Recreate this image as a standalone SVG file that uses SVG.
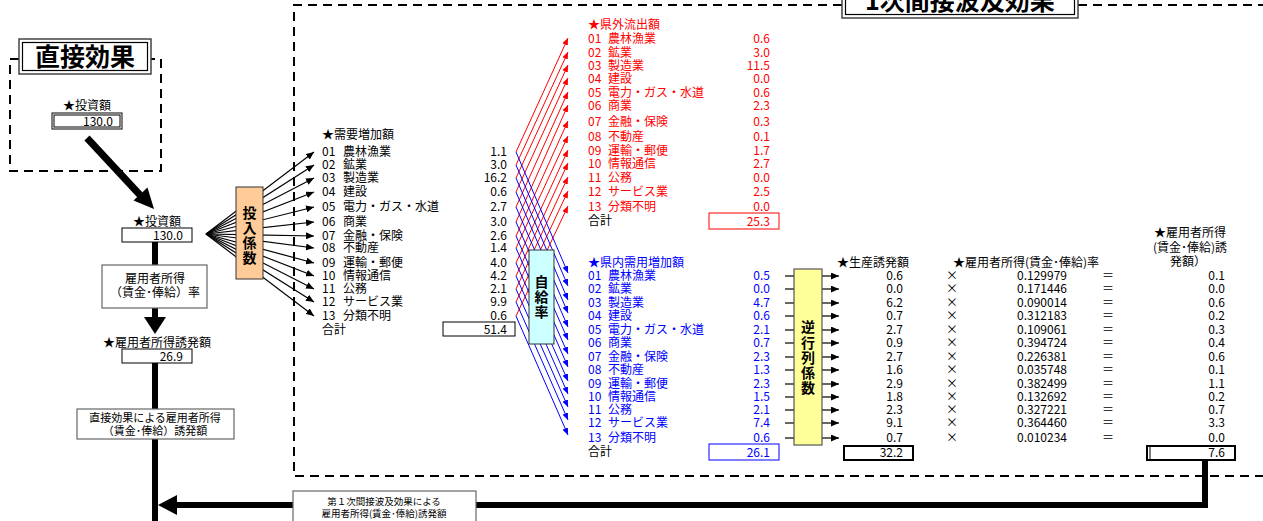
<svg xmlns="http://www.w3.org/2000/svg" width="1263" height="521" viewBox="0 0 1263 521">
<style>
.t{font-family:"Noto Sans CJK JP","Noto Sans CJK SC",sans-serif;font-size:12px;fill:#000}
.s{font-size:11px}
.xs{font-size:9.5px}
.r{fill:#f00}
.b{fill:#00f}
.n{text-anchor:end}
.c{text-anchor:middle}
.bold{font-weight:bold}
.v{font-family:"Noto Sans CJK JP",sans-serif;font-size:14px;font-weight:bold;text-anchor:middle;fill:#000}
.dash{fill:none;stroke:#000;stroke-width:2;stroke-dasharray:9 6}
.fan{stroke:#000;stroke-width:1.2;fill:none}
.rl{stroke:#f00;stroke-width:1;fill:none}
.bl{stroke:#00f;stroke-width:1;fill:none}
.box{fill:#fff;stroke:#000;stroke-width:1}
.gbox{fill:#fff;stroke:#666;stroke-width:1.2}
.thick{stroke:#000;fill:none}
</style>
<defs>
<marker id="ak" markerUnits="userSpaceOnUse" markerWidth="8" markerHeight="7" refX="8" refY="3.5" orient="auto"><path d="M0,0 L8,3.5 L0,7 z" fill="#000"/></marker>
<marker id="ar" markerUnits="userSpaceOnUse" markerWidth="7" markerHeight="6" refX="7" refY="3" orient="auto"><path d="M0,0 L7,3 L0,6 z" fill="#f00"/></marker>
<marker id="ab" markerUnits="userSpaceOnUse" markerWidth="7" markerHeight="6" refX="7" refY="3" orient="auto"><path d="M0,0 L7,3 L0,6 z" fill="#00f"/></marker>
</defs>
<rect width="1263" height="521" fill="#fff"/>

<!-- frames -->
<g id="frame-indirect">
<path class="dash" d="M842,5 H294 V476 H1263"/>
<path class="dash" d="M1078,5 H1263"/>
<rect x="842" y="-20" width="236" height="38" fill="#fff" stroke="#444" stroke-width="1.5"/>
<rect x="845.5" y="-17" width="229" height="31.5" fill="none" stroke="#000" stroke-width="1.2"/>
<text class="t bold c" x="960" y="10" style="font-size:25px">1次間接波及効果</text>
</g>
<g id="frame-direct">
<path class="dash" d="M19,59 H10 V171 H161 V59 H151"/>
<rect x="19" y="39" width="132" height="35" fill="#fff" stroke="#444" stroke-width="1.5"/>
<rect x="22.5" y="42.5" width="125" height="28" fill="none" stroke="#000" stroke-width="1.2"/>
<text class="t bold c" x="85" y="66" style="font-size:25px">直接効果</text>
</g>

<!-- connectors -->
<g id="connectors">
<line x1="87" y1="138" x2="140" y2="195" stroke="#000" stroke-width="7"/>
<polygon points="154,209 133.5,200.5 147.5,187.5" fill="#000"/>
<line x1="155" y1="242" x2="155" y2="266" stroke="#000" stroke-width="6"/>
<line x1="155" y1="307" x2="155" y2="318" stroke="#000" stroke-width="6"/>
<polygon points="144,317 166,317 155,334" fill="#000"/>
<line x1="155" y1="363" x2="155" y2="521" stroke="#000" stroke-width="6"/>
<polyline points="1205,460 1205,505 176,505" fill="none" stroke="#000" stroke-width="6"/>
<polygon points="158,505 177,495 177,515" fill="#000"/>

<g marker-end="url(#ak)">
<line class="fan" x1="206" y1="234" x2="314" y2="152"/>
<line class="fan" x1="206" y1="234" x2="314" y2="165"/>
<line class="fan" x1="206" y1="234" x2="314" y2="178"/>
<line class="fan" x1="206" y1="234" x2="314" y2="192"/>
<line class="fan" x1="206" y1="234" x2="314" y2="207"/>
<line class="fan" x1="206" y1="234" x2="314" y2="222"/>
<line class="fan" x1="206" y1="234" x2="314" y2="236"/>
<line class="fan" x1="206" y1="234" x2="314" y2="248"/>
<line class="fan" x1="206" y1="234" x2="314" y2="263"/>
<line class="fan" x1="206" y1="234" x2="314" y2="276"/>
<line class="fan" x1="206" y1="234" x2="314" y2="289"/>
<line class="fan" x1="206" y1="234" x2="314" y2="302"/>
<line class="fan" x1="206" y1="234" x2="314" y2="316"/>
</g>
<g marker-end="url(#ar)">
<line class="rl" x1="516" y1="152" x2="568" y2="38"/>
<line class="rl" x1="516" y1="165" x2="568" y2="52"/>
<line class="rl" x1="516" y1="178" x2="568" y2="65"/>
<line class="rl" x1="516" y1="192" x2="568" y2="78"/>
<line class="rl" x1="516" y1="207" x2="568" y2="92"/>
<line class="rl" x1="516" y1="222" x2="568" y2="105"/>
<line class="rl" x1="516" y1="236" x2="568" y2="121"/>
<line class="rl" x1="516" y1="248" x2="568" y2="136"/>
<line class="rl" x1="516" y1="263" x2="568" y2="150"/>
<line class="rl" x1="516" y1="276" x2="568" y2="163"/>
<line class="rl" x1="516" y1="289" x2="568" y2="177"/>
<line class="rl" x1="516" y1="302" x2="568" y2="191"/>
<line class="rl" x1="516" y1="316" x2="568" y2="206"/>
</g>
<g marker-end="url(#ab)">
<line class="bl" x1="516" y1="152" x2="568" y2="273"/>
<line class="bl" x1="516" y1="165" x2="568" y2="286"/>
<line class="bl" x1="516" y1="178" x2="568" y2="300"/>
<line class="bl" x1="516" y1="192" x2="568" y2="313"/>
<line class="bl" x1="516" y1="207" x2="568" y2="327"/>
<line class="bl" x1="516" y1="222" x2="568" y2="340"/>
<line class="bl" x1="516" y1="236" x2="568" y2="354"/>
<line class="bl" x1="516" y1="248" x2="568" y2="367"/>
<line class="bl" x1="516" y1="263" x2="568" y2="381"/>
<line class="bl" x1="516" y1="276" x2="568" y2="394"/>
<line class="bl" x1="516" y1="289" x2="568" y2="407"/>
<line class="bl" x1="516" y1="302" x2="568" y2="420"/>
<line class="bl" x1="516" y1="316" x2="568" y2="435"/>
</g>
<g stroke="#000" stroke-width="1.2">
<line x1="785" y1="276" x2="794" y2="276"/><line x1="785" y1="289" x2="794" y2="289"/><line x1="785" y1="303" x2="794" y2="303"/><line x1="785" y1="316" x2="794" y2="316"/><line x1="785" y1="330" x2="794" y2="330"/><line x1="785" y1="343" x2="794" y2="343"/><line x1="785" y1="357" x2="794" y2="357"/><line x1="785" y1="370" x2="794" y2="370"/><line x1="785" y1="384" x2="794" y2="384"/><line x1="785" y1="397" x2="794" y2="397"/><line x1="785" y1="410" x2="794" y2="410"/><line x1="785" y1="423" x2="794" y2="423"/><line x1="785" y1="438" x2="794" y2="438"/>
</g>
<g stroke="#000" stroke-width="1.2" marker-end="url(#ak)">
<line x1="822" y1="276" x2="839" y2="276"/><line x1="822" y1="289" x2="839" y2="289"/><line x1="822" y1="303" x2="839" y2="303"/><line x1="822" y1="316" x2="839" y2="316"/><line x1="822" y1="330" x2="839" y2="330"/><line x1="822" y1="343" x2="839" y2="343"/><line x1="822" y1="357" x2="839" y2="357"/><line x1="822" y1="370" x2="839" y2="370"/><line x1="822" y1="384" x2="839" y2="384"/><line x1="822" y1="397" x2="839" y2="397"/><line x1="822" y1="410" x2="839" y2="410"/><line x1="822" y1="423" x2="839" y2="423"/><line x1="822" y1="438" x2="839" y2="438"/>
</g>
</g>

<!-- direct effect nodes -->
<g id="node-invest-direct">
<text class="t c" x="87" y="110">★投資額</text>
<rect x="52" y="113" width="70" height="16" fill="#fff" stroke="#000" stroke-width="1"/>
<rect x="54" y="115" width="66" height="12" fill="none" stroke="#000" stroke-width="1"/>
<text class="t n" x="113" y="125.5">130.0</text>
</g>
<g id="node-invest">
<text class="t c" x="157" y="226">★投資額</text>
<rect class="box" x="122" y="228" width="70" height="14"/>
<text class="t n" x="183" y="239.5">130.0</text>
</g>
<g id="node-rate-direct">
<rect class="gbox" x="102" y="265" width="105" height="43"/>
<text class="t c" x="155" y="283">雇用者所得</text>
<text class="t c" x="155" y="297">（賃金･俸給）率</text>
</g>
<g id="node-income-direct">
<text class="t c" x="157" y="347">★雇用者所得誘発額</text>
<rect class="box" x="122" y="349" width="70" height="14"/>
<text class="t n" x="183" y="360.5">26.9</text>
</g>
<g id="node-direct-label">
<rect class="gbox" x="77" y="409" width="157" height="30"/>
<text class="t s c" x="155" y="421.5">直接効果による雇用者所得</text>
<text class="t s c" x="155" y="434.5">（賃金･俸給）誘発額</text>
</g>
<g id="node-indirect-label">
<rect class="gbox" x="293" y="491" width="183" height="32"/>
<text class="t xs c" x="384" y="505">第１次間接波及効果による</text>
<text class="t xs c" x="384" y="517">雇用者所得(賃金･俸給)誘発額</text>
</g>

<!-- coefficient boxes -->
<g id="node-io-coef">
<rect x="236" y="187" width="27" height="92" fill="#ffcc99" stroke="#333" stroke-width="1"/>
<text class="v" x="249.5" y="218">投</text>
<text class="v" x="249.5" y="233">入</text>
<text class="v" x="249.5" y="248">係</text>
<text class="v" x="249.5" y="263">数</text>
</g>
<g id="node-self-sufficiency">
<rect x="529" y="250" width="25" height="94" fill="#ccffff" stroke="#333" stroke-width="1"/>
<text class="v" x="541.5" y="287">自</text>
<text class="v" x="541.5" y="302">給</text>
<text class="v" x="541.5" y="317">率</text>
</g>
<g id="node-inverse">
<rect x="794" y="269" width="28" height="176" fill="#ffff99" stroke="#555" stroke-width="1.2"/>
<text class="v" x="808" y="332">逆</text>
<text class="v" x="808" y="348">行</text>
<text class="v" x="808" y="363">列</text>
<text class="v" x="808" y="378">係</text>
<text class="v" x="808" y="393">数</text>
</g>

<!-- demand list -->
<g id="node-demand" class="t">
<text class="t" x="322" y="139">★需要増加額</text>
<text class="t" x="322" y="156">01</text><text class="t" x="343" y="156">農林漁業</text><text class="t n" x="507" y="156">1.1</text>
<text class="t" x="322" y="169">02</text><text class="t" x="343" y="169">鉱業</text><text class="t n" x="507" y="169">3.0</text>
<text class="t" x="322" y="182">03</text><text class="t" x="343" y="182">製造業</text><text class="t n" x="507" y="182">16.2</text>
<text class="t" x="322" y="196">04</text><text class="t" x="343" y="196">建設</text><text class="t n" x="507" y="196">0.6</text>
<text class="t" x="322" y="211">05</text><text class="t" x="343" y="211">電力・ガス・水道</text><text class="t n" x="507" y="211">2.7</text>
<text class="t" x="322" y="226">06</text><text class="t" x="343" y="226">商業</text><text class="t n" x="507" y="226">3.0</text>
<text class="t" x="322" y="240">07</text><text class="t" x="343" y="240">金融・保険</text><text class="t n" x="507" y="240">2.6</text>
<text class="t" x="322" y="252">08</text><text class="t" x="343" y="252">不動産</text><text class="t n" x="507" y="252">1.4</text>
<text class="t" x="322" y="267">09</text><text class="t" x="343" y="267">運輸・郵便</text><text class="t n" x="507" y="267">4.0</text>
<text class="t" x="322" y="280">10</text><text class="t" x="343" y="280">情報通信</text><text class="t n" x="507" y="280">4.2</text>
<text class="t" x="322" y="293">11</text><text class="t" x="343" y="293">公務</text><text class="t n" x="507" y="293">2.1</text>
<text class="t" x="322" y="306">12</text><text class="t" x="343" y="306">サービス業</text><text class="t n" x="507" y="306">9.9</text>
<text class="t" x="322" y="320">13</text><text class="t" x="343" y="320">分類不明</text><text class="t n" x="507" y="320">0.6</text>
<text class="t" x="322" y="334">合計</text>
<rect class="box" x="443" y="322" width="72" height="14"/>
<text class="t n" x="507" y="334">51.4</text>
</g>

<!-- outflow list (red) -->
<g id="node-outflow">
<text class="t r" x="588" y="29">★県外流出額</text>
<text class="t r" x="588" y="43">01</text><text class="t r" x="608" y="43">農林漁業</text><text class="t r n" x="770" y="43">0.6</text>
<text class="t r" x="588" y="57">02</text><text class="t r" x="608" y="57">鉱業</text><text class="t r n" x="770" y="57">3.0</text>
<text class="t r" x="588" y="70">03</text><text class="t r" x="608" y="70">製造業</text><text class="t r n" x="770" y="70">11.5</text>
<text class="t r" x="588" y="83">04</text><text class="t r" x="608" y="83">建設</text><text class="t r n" x="770" y="83">0.0</text>
<text class="t r" x="588" y="97">05</text><text class="t r" x="608" y="97">電力・ガス・水道</text><text class="t r n" x="770" y="97">0.6</text>
<text class="t r" x="588" y="110">06</text><text class="t r" x="608" y="110">商業</text><text class="t r n" x="770" y="110">2.3</text>
<text class="t r" x="588" y="126">07</text><text class="t r" x="608" y="126">金融・保険</text><text class="t r n" x="770" y="126">0.3</text>
<text class="t r" x="588" y="141">08</text><text class="t r" x="608" y="141">不動産</text><text class="t r n" x="770" y="141">0.1</text>
<text class="t r" x="588" y="155">09</text><text class="t r" x="608" y="155">運輸・郵便</text><text class="t r n" x="770" y="155">1.7</text>
<text class="t r" x="588" y="168">10</text><text class="t r" x="608" y="168">情報通信</text><text class="t r n" x="770" y="168">2.7</text>
<text class="t r" x="588" y="182">11</text><text class="t r" x="608" y="182">公務</text><text class="t r n" x="770" y="182">0.0</text>
<text class="t r" x="588" y="196">12</text><text class="t r" x="608" y="196">サービス業</text><text class="t r n" x="770" y="196">2.5</text>
<text class="t r" x="588" y="211">13</text><text class="t r" x="608" y="211">分類不明</text><text class="t r n" x="770" y="211">0.0</text>
<text class="t" x="588" y="225">合計</text>
<rect x="709" y="213" width="70" height="16" fill="#fff" stroke="#f00" stroke-width="1"/>
<text class="t r n" x="770" y="225.5">25.3</text>
</g>

<!-- local demand list (blue) -->
<g id="node-local-demand">
<text class="t b" x="588" y="267">★県内需用増加額</text>
<text class="t b" x="588" y="280">01</text><text class="t b" x="608" y="280">農林漁業</text><text class="t b n" x="770" y="280">0.5</text>
<text class="t b" x="588" y="293">02</text><text class="t b" x="608" y="293">鉱業</text><text class="t b n" x="770" y="293">0.0</text>
<text class="t b" x="588" y="307">03</text><text class="t b" x="608" y="307">製造業</text><text class="t b n" x="770" y="307">4.7</text>
<text class="t b" x="588" y="320">04</text><text class="t b" x="608" y="320">建設</text><text class="t b n" x="770" y="320">0.6</text>
<text class="t b" x="588" y="334">05</text><text class="t b" x="608" y="334">電力・ガス・水道</text><text class="t b n" x="770" y="334">2.1</text>
<text class="t b" x="588" y="347">06</text><text class="t b" x="608" y="347">商業</text><text class="t b n" x="770" y="347">0.7</text>
<text class="t b" x="588" y="361">07</text><text class="t b" x="608" y="361">金融・保険</text><text class="t b n" x="770" y="361">2.3</text>
<text class="t b" x="588" y="374">08</text><text class="t b" x="608" y="374">不動産</text><text class="t b n" x="770" y="374">1.3</text>
<text class="t b" x="588" y="388">09</text><text class="t b" x="608" y="388">運輸・郵便</text><text class="t b n" x="770" y="388">2.3</text>
<text class="t b" x="588" y="401">10</text><text class="t b" x="608" y="401">情報通信</text><text class="t b n" x="770" y="401">1.5</text>
<text class="t b" x="588" y="414">11</text><text class="t b" x="608" y="414">公務</text><text class="t b n" x="770" y="414">2.1</text>
<text class="t b" x="588" y="427">12</text><text class="t b" x="608" y="427">サービス業</text><text class="t b n" x="770" y="427">7.4</text>
<text class="t b" x="588" y="442">13</text><text class="t b" x="608" y="442">分類不明</text><text class="t b n" x="770" y="442">0.6</text>
<text class="t" x="588" y="456">合計</text>
<rect x="709" y="444" width="70" height="16" fill="#fff" stroke="#00f" stroke-width="1"/>
<text class="t b n" x="770" y="456.5">26.1</text>
</g>

<!-- production -->
<g id="node-production">
<text class="t c" x="873" y="267">★生産誘発額</text>
<text class="t n" x="903" y="280">0.6</text>
<text class="t n" x="903" y="293">0.0</text>
<text class="t n" x="903" y="307">6.2</text>
<text class="t n" x="903" y="320">0.7</text>
<text class="t n" x="903" y="334">2.7</text>
<text class="t n" x="903" y="347">0.9</text>
<text class="t n" x="903" y="361">2.7</text>
<text class="t n" x="903" y="374">1.6</text>
<text class="t n" x="903" y="388">2.9</text>
<text class="t n" x="903" y="401">1.8</text>
<text class="t n" x="903" y="414">2.3</text>
<text class="t n" x="903" y="427">9.1</text>
<text class="t n" x="903" y="442">0.7</text>
<rect x="844" y="446" width="69" height="14" fill="#fff" stroke="#000" stroke-width="2"/>
<text class="t n" x="903" y="457">32.2</text>
</g>

<!-- rate -->
<g id="node-rate">
<text class="t" x="953" y="267">★雇用者所得(賃金･俸給)率</text>
<g class="t c">
<text class="t c" x="952" y="280">×</text><text class="t c" x="952" y="293">×</text><text class="t c" x="952" y="307">×</text><text class="t c" x="952" y="320">×</text><text class="t c" x="952" y="334">×</text><text class="t c" x="952" y="347">×</text><text class="t c" x="952" y="361">×</text><text class="t c" x="952" y="374">×</text><text class="t c" x="952" y="388">×</text><text class="t c" x="952" y="401">×</text><text class="t c" x="952" y="414">×</text><text class="t c" x="952" y="427">×</text><text class="t c" x="952" y="442">×</text>
</g>
<text class="t n" x="1067" y="280">0.129979</text>
<text class="t n" x="1067" y="293">0.171446</text>
<text class="t n" x="1067" y="307">0.090014</text>
<text class="t n" x="1067" y="320">0.312183</text>
<text class="t n" x="1067" y="334">0.109061</text>
<text class="t n" x="1067" y="347">0.394724</text>
<text class="t n" x="1067" y="361">0.226381</text>
<text class="t n" x="1067" y="374">0.035748</text>
<text class="t n" x="1067" y="388">0.382499</text>
<text class="t n" x="1067" y="401">0.132692</text>
<text class="t n" x="1067" y="414">0.327221</text>
<text class="t n" x="1067" y="427">0.364460</text>
<text class="t n" x="1067" y="442">0.010234</text>
<text class="t c" x="1108" y="280">＝</text><text class="t c" x="1108" y="293">＝</text><text class="t c" x="1108" y="307">＝</text><text class="t c" x="1108" y="320">＝</text><text class="t c" x="1108" y="334">＝</text><text class="t c" x="1108" y="347">＝</text><text class="t c" x="1108" y="361">＝</text><text class="t c" x="1108" y="374">＝</text><text class="t c" x="1108" y="388">＝</text><text class="t c" x="1108" y="401">＝</text><text class="t c" x="1108" y="414">＝</text><text class="t c" x="1108" y="427">＝</text><text class="t c" x="1108" y="442">＝</text>
</g>

<!-- income -->
<g id="node-income">
<text class="t c" x="1190" y="237">★雇用者所得</text>
<text class="t c" x="1190" y="252">(賃金･俸給)誘</text>
<text class="t c" x="1188" y="266">発額）</text>
<text class="t n" x="1225" y="280">0.1</text>
<text class="t n" x="1225" y="293">0.0</text>
<text class="t n" x="1225" y="307">0.6</text>
<text class="t n" x="1225" y="320">0.2</text>
<text class="t n" x="1225" y="334">0.3</text>
<text class="t n" x="1225" y="347">0.4</text>
<text class="t n" x="1225" y="361">0.6</text>
<text class="t n" x="1225" y="374">0.1</text>
<text class="t n" x="1225" y="388">1.1</text>
<text class="t n" x="1225" y="401">0.2</text>
<text class="t n" x="1225" y="414">0.7</text>
<text class="t n" x="1225" y="427">3.3</text>
<text class="t n" x="1225" y="442">0.0</text>
<rect x="1147" y="446" width="88" height="14" fill="#fff" stroke="#000" stroke-width="2"/>
<line x1="1150" y1="447" x2="1150" y2="459" stroke="#000" stroke-width="1"/>
<text class="t n" x="1225" y="457">7.6</text>
</g>
</svg>
